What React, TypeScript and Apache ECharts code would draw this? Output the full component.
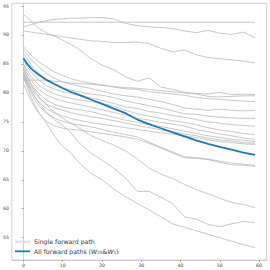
import React, { useEffect, useRef } from 'react';
import * as echarts from 'echarts';

// sampled x positions (iteration index)
const steps = [0, 1, 2, 3, 4, 6, 8, 10, 12, 14, 17, 20, 23, 26, 29, 32, 35, 38, 41, 44, 47, 50, 53, 56, 59];

const pathA = [92.2, 92.2, 92.2, 92.2, 92.2, 92.2, 92.2, 92.2, 92.2, 92.2, 92.2, 92.2, 92.2, 92.2, 92.2, 92.2, 92.2, 92.2, 92.2, 92.2, 92.2, 92.2, 92.2, 92.2, 92.2];
const pathB = [91.4, 91.6, 91.8, 92.0, 92.2, 92.5, 92.7, 92.8, 92.9, 92.9, 93.0, 93.0, 92.8, 92.0, 91.6, 91.4, 91.3, 91.1, 90.7, 90.4, 90.8, 90.3, 90.1, 90.5, 89.5];
const pathC = [93.5, 93.0, 92.3, 91.7, 91.1, 90.3, 89.8, 89.1, 88.4, 87.6, 86.0, 84.8, 84.0, 82.8, 82.0, 82.6, 81.0, 80.6, 80.1, 79.9, 79.8, 80.1, 79.7, 79.8, 79.7];
const pathD = [90.7, 90.6, 90.5, 90.4, 90.3, 90.1, 89.9, 89.7, 89.5, 89.3, 89.0, 88.9, 88.7, 88.7, 88.8, 88.5, 87.7, 87.1, 87.4, 86.6, 86.1, 85.9, 85.7, 85.5, 85.2];
const pathI = [82.2, 82.2, 82.2, 82.2, 82.2, 82.2, 82.0, 81.9, 81.7, 81.6, 81.5, 81.3, 81.1, 80.9, 80.8, 80.6, 80.4, 80.2, 80.0, 79.8, 79.4, 79.3, 79.4, 79.5, 79.5];
const pathL1 = [88.0, 87.2, 86.5, 85.9, 85.3, 84.4, 83.6, 83.0, 82.5, 82.1, 81.7, 81.4, 81.0, 80.7, 80.6, 80.2, 80.0, 79.8, 79.6, 79.2, 79.0, 78.9, 78.7, 78.6, 78.5];
const pathL3 = [87.5, 86.6, 85.8, 85.0, 84.4, 83.3, 82.5, 81.9, 81.5, 81.2, 80.8, 80.3, 79.8, 79.5, 79.3, 78.9, 78.5, 78.0, 77.4, 77.2, 77.0, 77.2, 77.0, 76.9, 77.0];
const pathL4 = [86.9, 85.8, 84.8, 84.0, 83.3, 82.2, 81.5, 80.9, 80.5, 80.2, 79.8, 79.6, 79.2, 78.6, 78.2, 77.8, 77.4, 76.9, 76.4, 76.3, 76.0, 75.8, 75.7, 75.6, 75.6];
const pathL5 = [85.6, 84.5, 83.6, 82.8, 82.2, 81.2, 80.6, 80.2, 79.9, 79.6, 79.2, 78.7, 78.2, 77.6, 77.3, 76.8, 76.5, 76.1, 75.8, 75.4, 75.0, 74.8, 74.5, 74.4, 74.2];
const pathL6 = [85.0, 83.8, 82.8, 82.0, 81.3, 80.4, 79.8, 79.4, 79.1, 78.8, 78.5, 78.2, 77.7, 77.0, 76.4, 76.0, 75.6, 75.2, 74.9, 74.5, 74.0, 73.6, 73.3, 73.0, 72.8];
const pathL7 = [84.6, 83.3, 82.2, 81.3, 80.6, 79.6, 79.0, 78.6, 78.3, 78.0, 77.6, 77.1, 76.6, 76.2, 75.6, 75.3, 74.9, 74.6, 74.3, 73.7, 73.3, 72.9, 72.6, 72.2, 72.0];
const pathL8 = [84.2, 82.8, 81.6, 80.6, 79.8, 78.7, 78.0, 77.6, 77.3, 77.1, 76.8, 76.3, 75.8, 75.3, 74.9, 74.5, 74.2, 73.8, 73.4, 73.0, 72.6, 72.3, 72.0, 71.8, 71.6];
const pathL9 = [83.6, 82.2, 80.9, 79.9, 79.1, 78.0, 77.4, 77.0, 76.6, 76.3, 75.9, 75.6, 75.2, 74.8, 74.4, 74.0, 73.6, 73.3, 72.9, 72.6, 72.2, 71.9, 71.7, 71.4, 71.3];
const pathL10 = [83.2, 81.7, 80.4, 79.3, 78.4, 77.2, 76.5, 76.0, 75.6, 75.3, 74.9, 74.6, 74.3, 74.0, 73.7, 73.4, 73.1, 72.9, 72.6, 72.3, 71.9, 71.6, 71.4, 71.2, 71.1];
const pathL11 = [82.9, 81.3, 79.9, 78.7, 77.7, 76.4, 75.6, 75.1, 74.7, 74.5, 74.2, 73.7, 73.2, 72.8, 72.4, 71.5, 70.6, 69.8, 69.0, 68.8, 68.6, 68.2, 67.9, 67.7, 67.5];
const pathL12 = [81.6, 80.0, 78.6, 77.4, 76.4, 75.0, 74.3, 73.9, 73.7, 73.6, 73.3, 73.0, 72.7, 72.4, 72.0, 71.3, 70.5, 69.6, 68.8, 68.7, 68.5, 68.0, 67.6, 67.5, 67.3];
const pathG = [84.0, 82.6, 81.3, 80.2, 79.3, 77.8, 76.6, 75.6, 74.8, 74.0, 72.7, 71.8, 71.0, 70.0, 68.6, 67.0, 66.0, 65.2, 64.2, 63.3, 62.6, 61.8, 61.1, 60.7, 60.2];
const pathF = [83.4, 81.8, 80.4, 79.2, 78.2, 76.6, 75.3, 74.4, 73.2, 71.5, 69.7, 68.4, 67.0, 65.3, 63.0, 63.0, 62.0, 60.9, 58.6, 58.2, 57.3, 56.9, 57.4, 57.8, 57.6];
const pathE = [82.8, 80.9, 79.2, 77.8, 76.6, 74.6, 72.4, 70.8, 69.7, 68.1, 66.2, 65.0, 63.4, 62.1, 60.9, 59.8, 58.6, 57.4, 56.8, 56.2, 55.6, 55.0, 54.4, 53.8, 53.3];

const allPaths = [86.0, 85.0, 84.2, 83.6, 83.1, 82.2, 81.5, 80.8, 80.2, 79.7, 78.9, 78.1, 77.3, 76.5, 75.4, 74.6, 73.9, 73.2, 72.5, 71.8, 71.2, 70.7, 70.2, 69.7, 69.3];

const singlePaths = [pathA, pathB, pathC, pathD, pathI, pathL1, pathL3, pathL4, pathL5, pathL6, pathL7, pathL8, pathL9, pathL10, pathL11, pathL12, pathG, pathF, pathE];

const xTicks = [0, 10, 20, 30, 40, 50, 60];
const yTicks = [55, 60, 65, 70, 75, 80, 85, 90, 95];
const legendLabels = ['Single forward path', 'All forward paths'];

export default function App() {
  const ref = useRef<HTMLDivElement>(null);
  useEffect(() => {
    const chart = echarts.init(ref.current!, null, { renderer: 'svg' });
    const toPts = (v: number[]) => steps.map((s, i) => [s, v[i]]);
    const font = 'DejaVu Sans';
    const series: any[] = singlePaths.map((p) => ({
      type: 'line',
      name: legendLabels[0],
      data: toPts(p),
      showSymbol: false,
      symbol: 'none',
      silent: true,
      z: 2,
      lineStyle: { color: '#b4b4b4', width: 0.75 },
    }));
    series.push({
      type: 'line',
      name: legendLabels[1],
      data: toPts(allPaths),
      showSymbol: false,
      symbol: 'none',
      silent: true,
      z: 3,
      lineStyle: { color: '#1f77b4', width: 1.8 },
    });
    chart.setOption({
      animation: false,
      grid: {
        left: 10.7, top: 3.3, width: 256, height: 256.7,
        show: true, borderColor: '#c4c4c4', borderWidth: 0.8, backgroundColor: 'transparent',
      },
      xAxis: {
        type: 'value', min: -2.95, max: 61.95,
        axisLine: { show: true, lineStyle: { color: '#c4c4c4', width: 0.8 } },
        axisTick: { show: true, length: 2, customValues: xTicks, lineStyle: { color: '#777', width: 0.6 } },
        axisLabel: { customValues: xTicks, fontSize: 4.6, color: '#444', margin: 2.5, fontFamily: font },
        splitLine: { show: false },
      },
      yAxis: {
        type: 'value', min: 51.15, max: 95.47,
        axisLine: { show: true, lineStyle: { color: '#c4c4c4', width: 0.8 } },
        axisTick: { show: true, length: 2, customValues: yTicks, lineStyle: { color: '#777', width: 0.6 } },
        axisLabel: { customValues: yTicks, fontSize: 4.6, color: '#444', margin: 3, fontFamily: font },
        splitLine: { show: false },
      },
      series,
      graphic: [
        { type: 'line', shape: { x1: 15, y1: 241.7, x2: 30, y2: 241.7 }, style: { stroke: '#dcdcdc', lineWidth: 2 }, z: 10 },
        { type: 'line', shape: { x1: 15, y1: 251.3, x2: 30, y2: 251.3 }, style: { stroke: '#1f77b4', lineWidth: 1.8 }, z: 10 },
        {
          type: 'text', x: 34, y: 241.7, z: 10,
          style: { text: legendLabels[0], fontSize: 6.2, fontFamily: font, fill: '#333', verticalAlign: 'middle' },
        },
        {
          type: 'text', x: 34, y: 251.3, z: 10,
          style: {
            text: '{n|All forward paths (}{i|W}{s|20}{n|&}{i|W}{s|1}{n|)}',
            fontFamily: font, fill: '#333', verticalAlign: 'middle',
            rich: {
              n: { fontSize: 6.2, fontFamily: font, fill: '#333' },
              i: { fontSize: 6.2, fontFamily: font, fontStyle: 'italic', fill: '#333' },
              s: { fontSize: 4.3, fontFamily: font, fill: '#333', padding: [3, 0, 0, 0] },
            },
          },
        },
      ],
    });
    return () => chart.dispose();
  }, []);
  return <div ref={ref} style={{ position: 'fixed', left: 0, top: 0, width: 270, height: 270, background: '#fff' }} />;
}
